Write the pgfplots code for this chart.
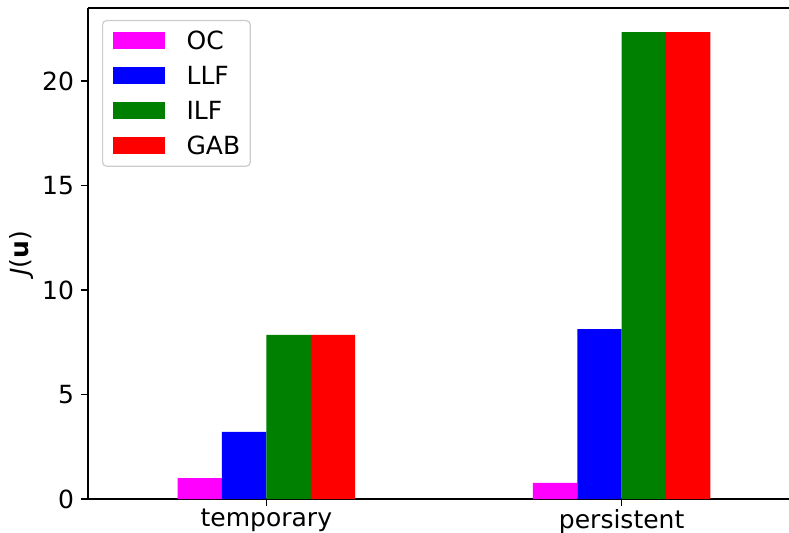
\documentclass[border=0pt]{standalone}
\usepackage{fontspec}
\setmainfont{DejaVu Sans}
\usepackage{pgfplots}
\pgfplotsset{compat=1.18}

\definecolor{ocmag}{RGB}{255,0,255}
\definecolor{llfblue}{RGB}{0,0,255}
\definecolor{ilfgreen}{RGB}{0,128,0}
\definecolor{gabred}{RGB}{255,0,0}

\newcommand{\chartfont}{\fontsize{12.5}{15}\selectfont}

\begin{document}
\begin{tikzpicture}[font=\chartfont]
\begin{axis}[
    name=ax,
    scale only axis,
    width=350.5pt, height=245.5pt,
    xmin=-0.502, xmax=1.471,
    ymin=0, ymax=23.49,
    axis lines=left,
    axis line style={-, line width=0.7pt},
    tick align=outside,
    major tick length=3.5pt,
    tick style={black, line width=0.7pt},
    xtick={0,1},
    xticklabels={temporary, persistent},
    ytick={0,5,10,15,20},
    /pgf/number format/assume math mode=true,
    tick label style={font=\chartfont},
    xticklabel style={yshift=2pt},
    every axis y label/.style={at={(rel axis cs:0,0.5)}, rotate=90, anchor=center, yshift=33pt},
    ylabel={\itshape J\upshape(\textbf{u})},
    label style={font=\chartfont},
    ybar, bar width=0.125,
    legend image code/.code={\fill[#1, sharp corners] (0pt,-4.1pt) rectangle (26pt,4.2pt);},
    legend cell align=left,
    legend style={at={(rel axis cs:0,1)}, anchor=north west, xshift=7pt, yshift=-6pt,
        draw=black!20, rounded corners=2pt, fill=white, line width=0.6pt,
        font=\chartfont, inner xsep=5pt, inner ysep=5.6pt,
        nodes={inner sep=0pt, text height=9.1pt, text depth=0pt},
        row sep=8.4pt,
        /tikz/every odd column/.append style={column sep=11pt}},
]
\addplot[fill=ocmag, draw=none, bar shift=-0.1875] coordinates {(0,1.00) (1,0.77)};
\addplot[fill=llfblue, draw=none, bar shift=-0.0625] coordinates {(0,3.21) (1,8.13)};
\addplot[fill=ilfgreen, draw=none, bar shift=0.0625] coordinates {(0,7.85) (1,22.34)};
\addplot[fill=gabred, draw=none, bar shift=0.1875] coordinates {(0,7.85) (1,22.34)};
\legend{OC, LLF, ILF, GAB}
\draw[line width=0.7pt] (rel axis cs:0,1) -- (rel axis cs:1,1);
\end{axis}
\pgfresetboundingbox
\useasboundingbox ([xshift=-44pt,yshift=-17pt]ax.south west) rectangle ([yshift=4pt]ax.north east);
\end{tikzpicture}
\end{document}
